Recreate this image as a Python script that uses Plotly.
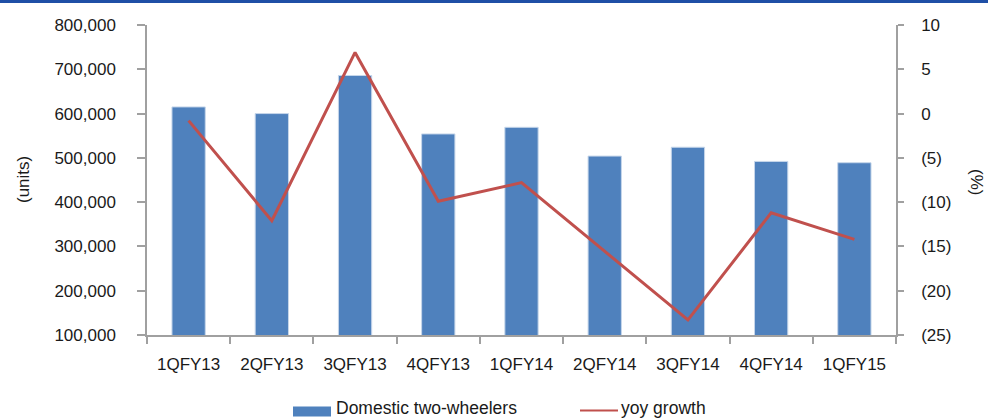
import plotly.graph_objects as go

categories = ["1QFY13", "2QFY13", "3QFY13", "4QFY13", "1QFY14",
              "2QFY14", "3QFY14", "4QFY14", "1QFY15"]
units = [615000, 600000, 686000, 554000, 569000, 504000, 524000, 492000, 489000]
yoy_growth = [-0.8, -12.1, 6.9, -9.9, -7.8, -15.6, -23.3, -11.2, -14.2]

left_ticks = [100000, 200000, 300000, 400000, 500000, 600000, 700000, 800000]
right_tickvals = [10, 5, 0, -5, -10, -15, -20, -25]
right_ticktext = ["10", "5", "0", "(5)", "(10)", "(15)", "(20)", "(25)"]

W, H = 988, 419
L, R, T, B = 147, 92, 25, 84
PW, PH = W - L - R, H - T - B

def px(x):
    return (x - L) / PW

def py(y):
    return (H - B - y) / PH

FONT = "Liberation Sans, Arial, sans-serif"
TXT = "#1a1a1a"
AX = "#a0a0a0"
BAR = "#4f81bd"
LINE = "#c0504d"

fig = go.Figure()
fig.add_trace(go.Bar(x=categories, y=units, name="Domestic two-wheelers",
                     marker=dict(color=BAR, line=dict(color="#c6d6ea", width=1)),
                     width=0.4, yaxis="y", showlegend=False))
fig.add_trace(go.Scatter(x=categories, y=yoy_growth, name="yoy growth",
                         mode="lines", line=dict(color=LINE, width=3),
                         yaxis="y2", showlegend=False))

fig.update_layout(
    width=W, height=H,
    margin=dict(l=L, r=R, t=T, b=B),
    paper_bgcolor="white", plot_bgcolor="white",
    font=dict(family=FONT, size=17, color=TXT),
    xaxis=dict(type="category", showline=True, linecolor=AX, linewidth=1.5,
               ticks="outside", tickson="boundaries", ticklen=7, tickcolor=AX,
               tickwidth=1.5, showgrid=False, ticklabelstandoff=13,
               tickfont=dict(size=17, color=TXT)),
    yaxis=dict(range=[100000, 800000], tickvals=left_ticks, tickformat=",",
               showline=True, linecolor=AX, linewidth=1.5, ticks="outside",
               ticklen=8, tickcolor=AX, tickwidth=1.5, showgrid=False,
               zeroline=False, ticklabelstandoff=18,
               tickfont=dict(size=17, color=TXT)),
    yaxis2=dict(range=[-25, 10], overlaying="y", side="right",
                tickvals=right_tickvals, ticktext=right_ticktext,
                showline=True, linecolor=AX, linewidth=1.5, ticks="outside",
                ticklen=6, tickcolor=AX, tickwidth=1.5, showgrid=False,
                zeroline=False, ticklabelstandoff=14,
                tickfont=dict(size=17, color=TXT)),
    showlegend=False,
)

shapes = [
    # top blue rule
    dict(type="rect", xref="paper", yref="paper", x0=px(0), x1=px(W),
         y0=py(3), y1=py(-1), fillcolor="#1f4fa6", line=dict(width=0), layer="above"),
    # legend bar swatch
    dict(type="rect", xref="paper", yref="paper", x0=px(293), x1=px(331),
         y0=py(416.5), y1=py(406.5), fillcolor=BAR, line=dict(width=0)),
    # legend line swatch
    dict(type="line", xref="paper", yref="paper", x0=px(580), x1=px(618),
         y0=py(410.5), y1=py(410.5), line=dict(color=LINE, width=2)),
]
fig.update_layout(shapes=shapes)

annotations = [
    dict(text="Domestic two-wheelers", xref="paper", yref="paper", x=px(334), y=py(407.5),
         xanchor="left", yanchor="middle", showarrow=False, font=dict(size=17.5, color=TXT)),
    dict(text="yoy growth", xref="paper", yref="paper", x=px(619), y=py(407.5),
         xanchor="left", yanchor="middle", showarrow=False, font=dict(size=17.5, color=TXT)),
    dict(text="(units)", xref="paper", yref="paper", x=px(23), y=py(180),
         xanchor="center", yanchor="middle", textangle=-90, showarrow=False,
         font=dict(size=17, color=TXT)),
    dict(text="(%)", xref="paper", yref="paper", x=px(977), y=py(182),
         xanchor="center", yanchor="middle", textangle=90, showarrow=False,
         font=dict(size=17, color=TXT)),
]
fig.update_layout(annotations=annotations)

fig.write_html(
    "out.html",
    config={"displayModeBar": False},
    post_script="document.body.style.margin='0';document.body.style.padding='0';"
                "document.body.style.overflow='hidden';",
)
